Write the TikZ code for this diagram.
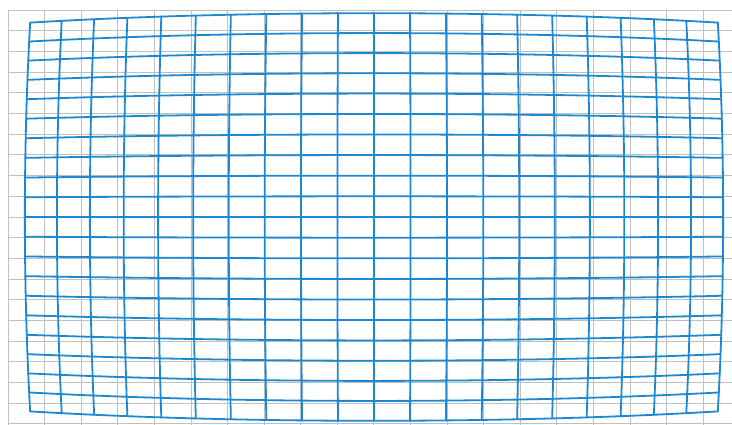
\documentclass[tikz,border=0pt]{standalone}
\usepackage{tikz}
\definecolor{gridgray}{RGB}{192,192,192}
\definecolor{gridblue}{RGB}{28,136,210}
\tikzset{
  graygrid/.style={draw=gridgray, line width=1pt},
  bluegrid/.style={draw=gridblue, line width=1.8pt, line join=round, line cap=round},
}
\begin{document}
\begin{tikzpicture}[x=100pt,y=-100pt]
\def\distk{0.0034}
\def\su{0.3658}
\def\sv{0.2068}
\useasboundingbox (-3.74,-2.17) rectangle (3.58,2.07);
\fill[white] (-3.74,-2.17) rectangle (3.58,2.07);
\clip (-3.74,-2.17) rectangle (3.58,2.07);
% regular gray grid
\foreach \i in {-10,...,10}{
  \pgfmathsetmacro\uo{\i*\su}
  \draw[graygrid] (\uo,-2.068) -- (\uo,2.2);
}
\foreach \j in {-10,...,10}{
  \pgfmathsetmacro\vo{\j*\sv}
  \draw[graygrid] (-3.658,\vo) -- (3.7,\vo);
}
% barrel-distorted blue grid
\foreach \i in {-10,...,10}{
  \pgfmathsetmacro\uo{\i*\su}
  \draw[bluegrid] plot[domain=-2.068:2.068, samples=41, variable=\t]
    ({\uo*(1-\distk*(\uo*\uo+\t*\t))},{\t*(1-\distk*(\uo*\uo+\t*\t))});
}
\foreach \j in {-10,...,10}{
  \pgfmathsetmacro\vo{\j*\sv}
  \draw[bluegrid] plot[domain=-3.658:3.658, samples=61, variable=\t]
    ({\t*(1-\distk*(\t*\t+\vo*\vo))},{\vo*(1-\distk*(\t*\t+\vo*\vo))});
}
\end{tikzpicture}
\end{document}
